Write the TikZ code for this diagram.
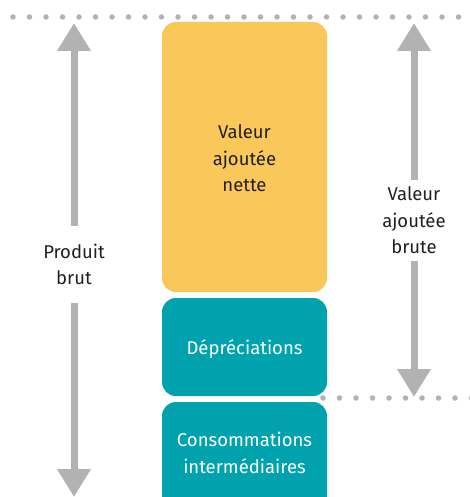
\documentclass[tikz,border=0pt]{standalone}
\usepackage{fontspec}
\setmainfont{Fira Sans}
\usetikzlibrary{arrows.meta}
\definecolor{yel}{HTML}{FAC75A}
\definecolor{tealb}{HTML}{00A3AD}
\definecolor{gr}{HTML}{B2B2B2}
\definecolor{txt}{HTML}{231F20}
\begin{document}
\begin{tikzpicture}[x=1pt,y=-1pt,
  lbl/.style={align=center, font=\fontsize{18.5}{26.5}\selectfont, text=txt, inner sep=0pt},
  boxy/.style={fill=yel, rounded corners=14pt, minimum width=165pt, inner sep=0pt},
  boxt/.style={fill=tealb, rounded corners=14pt, minimum width=165pt, inner sep=0pt},
  meas/.style={draw=gr, line width=7pt, -{Triangle[width=32pt,length=28pt]}},
  dots/.style={draw=gr, line width=5.5pt, line cap=round, dash pattern=on 0pt off 16.5pt}]
\useasboundingbox (0,0) rectangle (470,497);
% dotted guide lines
\coordinate (d1a) at (13,17);
\coordinate (d1b) at (472,17);
\coordinate (d2a) at (323,398);
\coordinate (d2b) at (472,398);
\draw[dots] (d1a) -- (d1b);
\draw[dots] (d2a) -- (d2b);
% boxes
\node[boxy, minimum height=270pt] (van) at (244.5,157) {};
\node[lbl] (vantxt) at (244.5,158.5) {Valeur\\ajoutée\\nette};
\node[boxt, minimum height=98pt] (dep) at (244.5,347) {};
\node[lbl, text=white] (deptxt) at (244.5,349) {Dépréciations};
\node[boxt, minimum height=130pt] (ci) at (244.5,467) {};
\node[lbl, text=white] (citxt) at (244.5,453) {Consommations\\intermédiaires};
% left measure
\coordinate (ltop) at (74,23);
\coordinate (lbot) at (74,497);
\node[lbl, minimum height=77pt] (pb) at (74,264.5) {Produit\\brut};
\draw[meas] (pb.north) -- (ltop);
\draw[meas] (pb.south) -- (lbot);
% right measure
\coordinate (rtop) at (414,23);
\coordinate (rbot) at (414,397);
\node[lbl, minimum height=81pt] (vab) at (414,220.5) {Valeur\\ajoutée\\brute};
\draw[meas] (vab.north) -- (rtop);
\draw[meas] (vab.south) -- (rbot);
\end{tikzpicture}
\end{document}
